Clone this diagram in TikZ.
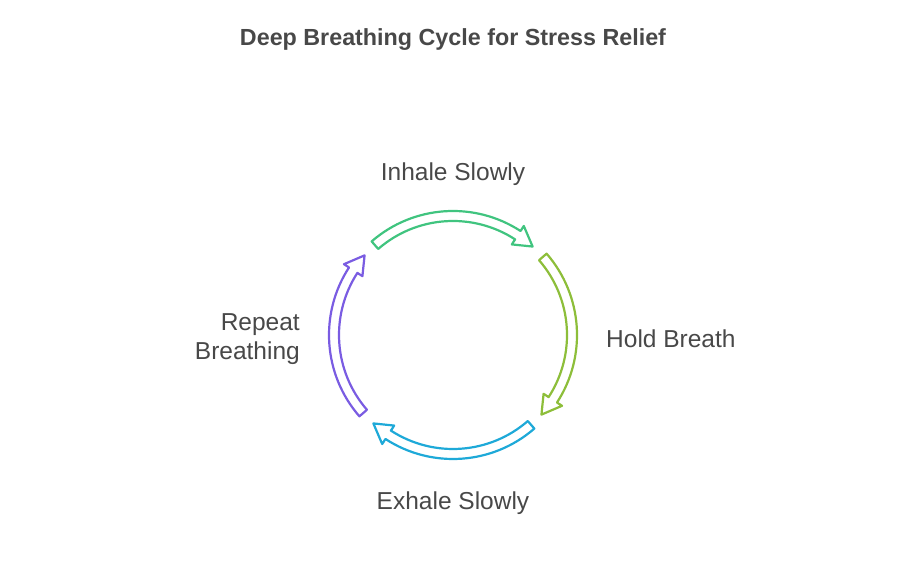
\documentclass[tikz,border=0pt]{standalone}
\usepackage{fontspec}
\setmainfont{Liberation Sans}
\definecolor{txt}{HTML}{484848}
\definecolor{cgreen}{HTML}{40C47F}
\definecolor{clime}{HTML}{8DBE3A}
\definecolor{ccyan}{HTML}{1EA9D8}
\definecolor{cpurple}{HTML}{7A5CE2}
\tikzset{
  arc arrow/.style={draw=#1, line width=2.2pt, line join=round, fill=white},
  lbl/.style={text=txt, font=\fontsize{24.5}{29}\selectfont, inner sep=0pt},
}
% #1 center angle, #2 colour
\newcommand{\cycarrow}[2]{%
  \pgfmathsetmacro{\ta}{#1+41}%
  \pgfmathsetmacro{\hb}{#1-33}%
  \pgfmathsetmacro{\tp}{#1-42}%
  \draw[arc arrow=#2] ([shift={(\ta:124)}]C) arc[start angle=\ta, end angle=\hb, radius=124]
    -- ([shift={(\hb:130)}]C) -- ([shift={(\tp:119)}]C) -- ([shift={(\hb:108)}]C)
    -- ([shift={(\hb:114)}]C) arc[start angle=\hb, end angle=\ta, radius=114] -- cycle;%
}
\begin{document}
\begin{tikzpicture}[x=1pt,y=1pt]
\useasboundingbox (0,0) rectangle (918,561);
\coordinate (C) at (453,226);
\node[text=txt, font=\bfseries\fontsize{23.3}{28}\selectfont, inner sep=0pt] (title) at (453,521) {Deep Breathing Cycle for Stress Relief};
\cycarrow{90}{cgreen}
\cycarrow{0}{clime}
\cycarrow{-90}{ccyan}
\cycarrow{180}{cpurple}
\node[lbl] (inhale) at (453,386.5) {Inhale Slowly};
\node[lbl, anchor=west] (hold) at (606,222.5) {Hold Breath};
\node[lbl] (exhale) at (453,57.5) {Exhale Slowly};
\node[lbl, anchor=east, align=right] (repeat) at (300,222) {Repeat\\Breathing};
\end{tikzpicture}
\end{document}
